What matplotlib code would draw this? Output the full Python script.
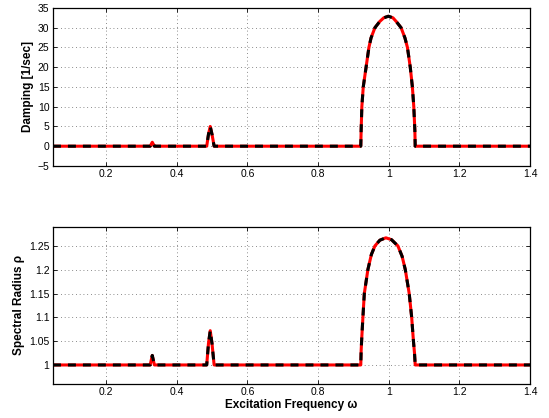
import numpy as np
import matplotlib
matplotlib.use("Agg")
from matplotlib import pyplot as plt

plt.rcParams['font.family'] = ['Liberation Sans', 'DejaVu Sans']

# excitation frequency samples and values
omega = [0.05, 0.325, 0.331, 0.337, 0.485, 0.490, 0.495, 0.500, 0.506,
         0.921, 0.922, 0.924, 0.928, 0.936, 0.944, 0.950, 0.961, 0.975, 0.986,
         0.999, 1.012, 1.021, 1.035, 1.046, 1.053, 1.061, 1.067, 1.071, 1.074,
         1.075, 1.40]
damping = [0, 0, 1.0, 0, 0, 3.0, 5.0, 3.0, 0,
           0, 4, 10, 15, 20, 25, 27.4, 30, 31.6, 32.5,
           32.9, 32.5, 31.6, 30, 27.4, 25, 20, 15, 10, 4,
           0, 0]

omega_rho = [0.05, 0.325, 0.331, 0.337, 0.485, 0.490, 0.495, 0.500, 0.506,
             0.921, 0.922, 0.924, 0.927, 0.931, 0.941, 0.951, 0.961, 0.975,
             0.992, 1.008, 1.026, 1.038, 1.047, 1.058, 1.065, 1.070, 1.073,
             1.075, 1.40]
rho = [1, 1, 1.02, 1, 1, 1.045, 1.072, 1.045, 1,
       1.0, 1.03, 1.06, 1.10, 1.15, 1.20, 1.232, 1.25, 1.262,
       1.267, 1.263, 1.25, 1.228, 1.20, 1.15, 1.10, 1.05, 1.025,
       1.0, 1.0]

xticks = [0.2, 0.4, 0.6, 0.8, 1.0, 1.2, 1.4]
xticklabels = ['0.2', '0.4', '0.6', '0.8', '1', '1.2', '1.4']
yticks_top = list(range(-5, 36, 5))
yticks_bot = [1, 1.05, 1.1, 1.15, 1.2, 1.25]
yticklabels_bot = ['1', '1.05', '1.1', '1.15', '1.2', '1.25']

fig = plt.figure(figsize=(5.49, 4.18), dpi=100)
ax1 = fig.add_axes([0.0965, 0.603, 0.869, 0.378])
ax2 = fig.add_axes([0.0965, 0.0813, 0.869, 0.376])

def style(ax):
    ax.set_xlim(0.05, 1.4)
    ax.set_xticks(xticks)
    ax.set_xticklabels(xticklabels)
    ax.tick_params(direction='in', length=3, width=0.6, labelsize=7.5,
                   top=True, right=True, pad=2.5)
    ax.grid(True, linestyle=(0, (1, 3.5)), color='0.4', linewidth=0.6)
    for s in ax.spines.values():
        s.set_linewidth(0.9)

for ax, x, y in [(ax1, omega, damping), (ax2, omega_rho, rho)]:
    ax.plot(x, y, color='red', lw=2.2, solid_joinstyle='round')
    ax.plot(x, y, color='black', lw=2.2, dashes=(2.6, 2.3))
    style(ax)

ax1.set_ylim(-5, 35)
ax1.set_yticks(yticks_top)
ax1.set_ylabel('Damping [1/sec]', fontsize=8.5, fontweight='bold', labelpad=3)

ax2.set_ylim(0.96, 1.29)
ax2.set_yticks(yticks_bot)
ax2.set_yticklabels(yticklabels_bot)
ax2.set_ylabel('Spectral Radius ρ', fontsize=8.5, fontweight='bold', labelpad=3)
ax2.set_xlabel('Excitation Frequency ω', fontsize=8.5, fontweight='bold', labelpad=1)

fig.savefig('out.png', dpi=100)
